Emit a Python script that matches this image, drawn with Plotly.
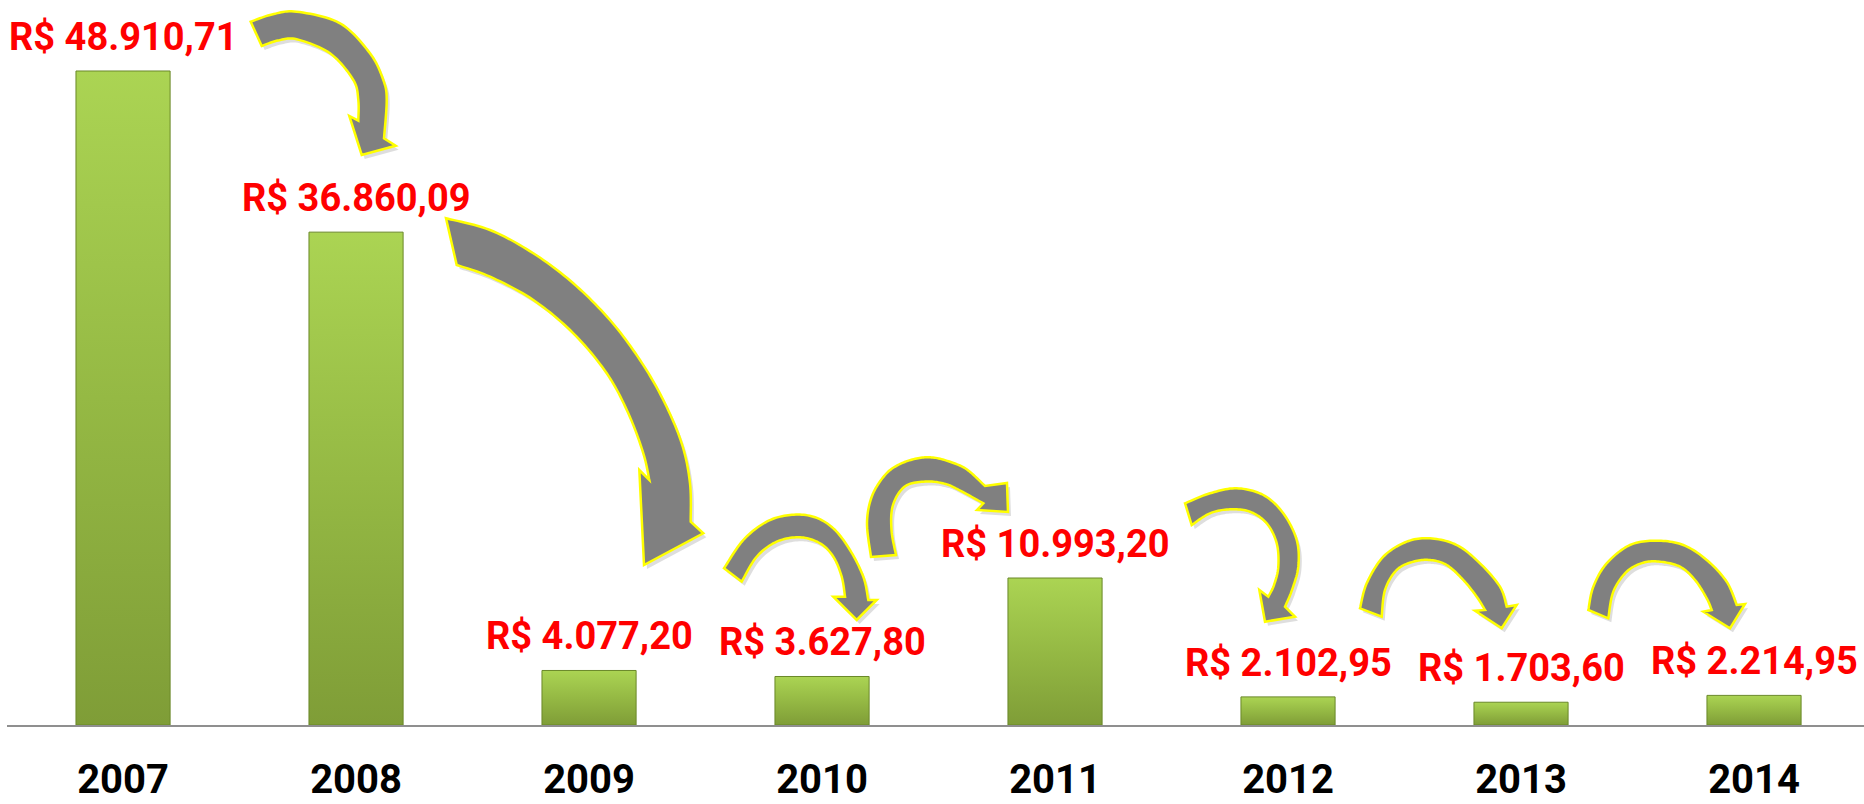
import plotly.graph_objects as go

# ---------------- data ----------------
years = ["2007", "2008", "2009", "2010", "2011", "2012", "2013", "2014"]
values = [48910.71, 36860.09, 4077.20, 3627.80, 10993.20, 2102.95, 1703.60, 2214.95]


def brl(v):
    s = f"{v:,.2f}"  # 48,910.71
    s = s.replace(",", "X").replace(".", ",").replace("X", ".")
    return "R$ " + s


value_labels = [brl(v) for v in values]

# ---------------- geometry / style ----------------
W, H = 1864, 804
ML, MR, MT, MB = 7, 0, 0, 79
PW, PH = W - ML - MR, H - MT - MB
X_RANGE = [-0.498, 7.472]
Y_RANGE = [0, 54220]
BAR_HALF = 0.202
FONT = "Roboto, 'Open Sans', sans-serif"

fig = go.Figure()

# bars (gradient filled) built from the data arrays in data coordinates
for i, v in enumerate(values):
    fig.add_trace(go.Scatter(
        x=[i - BAR_HALF, i + BAR_HALF, i + BAR_HALF, i - BAR_HALF, i - BAR_HALF],
        y=[0, 0, v, v, 0],
        mode="lines",
        fill="toself",
        fillgradient=dict(type="vertical",
                          colorscale=[[0, "#7f9d37"], [0.5, "#95b944"], [1, "#abd453"]]),
        line=dict(color="#6a8829", width=1),
        hoverinfo="text",
        hovertext=f"{years[i]}: {value_labels[i]}",
        showlegend=False,
    ))

# value labels above bars
for i, (v, lab) in enumerate(zip(values, value_labels)):
    fig.add_annotation(
        x=i, y=v, text=lab, showarrow=False,
        xanchor="center", yanchor="middle", yshift=34,
        font=dict(family=FONT, size=38, color="#ff0000", weight=700),
    )


# ---------------- decorative curved arrows ----------------
def catmull(pts, n=12):
    out = []
    m = len(pts)
    for k in range(m - 1):
        p0 = pts[k - 1] if k > 0 else pts[k]
        p1 = pts[k]
        p2 = pts[k + 1]
        p3 = pts[k + 2] if k + 2 < m else pts[k + 1]
        for j in range(n):
            t = j / n
            t2, t3 = t * t, t * t * t
            x = 0.5 * ((2 * p1[0]) + (-p0[0] + p2[0]) * t
                       + (2 * p0[0] - 5 * p1[0] + 4 * p2[0] - p3[0]) * t2
                       + (-p0[0] + 3 * p1[0] - 3 * p2[0] + p3[0]) * t3)
            y = 0.5 * ((2 * p1[1]) + (-p0[1] + p2[1]) * t
                       + (2 * p0[1] - 5 * p1[1] + 4 * p2[1] - p3[1]) * t2
                       + (-p0[1] + 3 * p1[1] - 3 * p2[1] + p3[1]) * t3)
            out.append((x, y))
    out.append(pts[-1])
    return out


def to_paper(px, py):
    return (px - ML) / PW, (MT + PH - py) / PH


def arrow_path(a, dx=0.0, dy=0.0):
    poly = catmull(a["outer"]) + a["head"] + catmull(a["inner"])[::-1]
    parts = []
    for k, (x, y) in enumerate(poly):
        u, w = to_paper(x + dx, y + dy)
        parts.append(("M" if k == 0 else "L") + f"{u:.5f},{w:.5f}")
    return " ".join(parts) + " Z"


arrows = [
    dict(outer=[(250.7, 21.7), (272, 14.5), (296.7, 11.7), (340, 23.3), (370, 53.3),
                (383.3, 80), (386.7, 100), (384, 138.3)],
         inner=[(261.7, 46), (278, 40.5), (296.7, 39.3), (330, 53.3), (353.3, 80),
                (358.3, 100), (358.3, 120.7)],
         head=[(395.7, 145.7), (361.7, 155), (349.3, 116)]),
    dict(outer=[(446, 218.3), (490, 230), (533.3, 253.3), (573.3, 283.3), (610, 320),
                (640, 360), (663.3, 400), (681.7, 443.3), (690, 483.3), (690.7, 521.7)],
         inner=[(456.7, 265), (490, 276.7), (533.3, 300), (573.3, 333.3), (606.7, 373.3),
                (628.3, 413.3), (643.3, 453.3), (649.3, 480)],
         head=[(703.3, 533.3), (644, 565), (639.3, 470)]),
    dict(outer=[(724, 568.3), (743.3, 540), (766.7, 521.7), (790, 515), (813.3, 516.7),
                (833.3, 528.3), (850, 550), (863.3, 576.7), (868.3, 600)],
         inner=[(741.7, 581.7), (756.7, 556.7), (776.7, 541.7), (800, 537.3), (820, 543.3),
                (833.3, 556.7), (841.7, 576.7), (845, 596.7)],
         head=[(876.7, 600), (856.7, 620), (833.3, 596.7)]),
    dict(outer=[(871, 557), (867, 523), (872, 496), (885, 475), (899, 464.5),
                (916.7, 458.5), (933, 457.5), (950, 461.8), (967, 469.5), (985, 486)],
         inner=[(896, 555), (891.5, 530), (893, 505), (905.5, 486), (927, 481.5),
                (945.5, 484), (959, 490), (983.3, 503.3)],
         head=[(1007, 483), (1008, 512), (977, 510)]),
    dict(outer=[(1185, 503.3), (1210, 493.3), (1236.7, 488.3), (1263.3, 495), (1283.3, 513.3),
                (1296.7, 540), (1298.3, 566.7), (1292, 590), (1285, 606.7)],
         inner=[(1191.7, 525), (1210, 513.3), (1230, 509.3), (1250, 511.7), (1266.7, 523.3),
                (1276.7, 543.3), (1278.3, 566.7), (1274, 585), (1268.3, 596.7)],
         head=[(1295, 616.7), (1265, 621.7), (1259.3, 590)]),
    dict(outer=[(1360, 608.3), (1366.7, 583.3), (1383.3, 556.7), (1406.7, 541.7), (1430, 538.3),
                (1456.7, 545), (1480, 563.3), (1500, 586.7), (1506.7, 606.7)],
         inner=[(1381.7, 616.7), (1385, 590), (1396.7, 570), (1413.3, 561.7), (1430, 560),
                (1446.7, 565), (1463.3, 580), (1476.7, 596.7), (1485, 610)],
         head=[(1516.7, 605), (1501.7, 628.3), (1475, 610.7)]),
    dict(outer=[(1588.3, 610), (1593.3, 586.7), (1606.7, 563.3), (1630, 545), (1656.7, 540.7),
                (1683.3, 545), (1706.7, 560), (1726.7, 581.7), (1736.7, 605)],
         inner=[(1608.3, 618.3), (1613.3, 591.7), (1626.7, 571.7), (1643.3, 562.7), (1660, 561.7),
                (1680, 566.7), (1695, 580), (1706.7, 598.3), (1711.7, 610)],
         head=[(1745, 604), (1730, 628.3), (1703.3, 611.7)]),
]

for a in arrows:
    fig.add_shape(type="path", xref="paper", yref="paper", path=arrow_path(a, 3, 4),
                  fillcolor="rgba(0,0,0,0.13)", line=dict(width=0), layer="above")
    fig.add_shape(type="path", xref="paper", yref="paper", path=arrow_path(a),
                  fillcolor="#808080", line=dict(color="#ffff00", width=2.5), layer="above")

fig.update_layout(
    width=W, height=H,
    margin=dict(l=ML, r=MR, t=MT, b=MB, autoexpand=False),
    paper_bgcolor="white", plot_bgcolor="white",
    showlegend=False,
    xaxis=dict(
        range=X_RANGE, tickmode="array", tickvals=list(range(len(years))), ticktext=years,
        tickfont=dict(family=FONT, size=40, color="#000000", weight=700),
        showgrid=False, zeroline=False, showline=True, linecolor="#8f8f8f", linewidth=2,
        ticks="", ticklabelstandoff=18, automargin=False, fixedrange=True,
    ),
    yaxis=dict(range=Y_RANGE, visible=False, fixedrange=True, automargin=False),
)

fig.write_html(
    "out.html",
    config={"displayModeBar": False},
    post_script="document.body.style.margin='0px';document.body.style.overflow='hidden';",
)
